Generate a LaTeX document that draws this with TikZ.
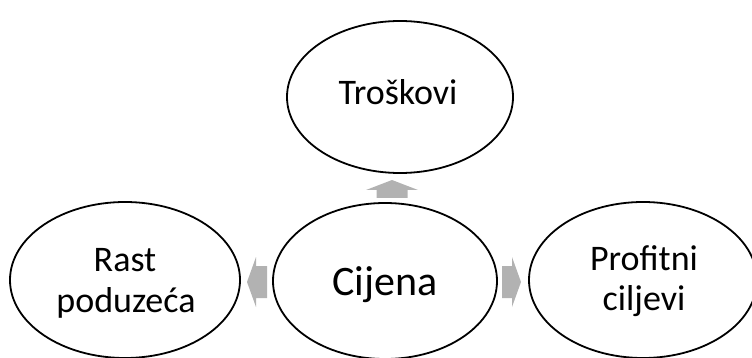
\documentclass[tikz,border=0pt]{standalone}
\usepackage{fontspec}
\setmainfont{Carlito}
\usetikzlibrary{shapes.geometric}
\definecolor{arrowgray}{RGB}{178,178,178}
\begin{document}
\begin{tikzpicture}[x=1pt,y=-1pt,
  oval/.style={ellipse, draw=black, line width=1.8pt, fill=white, inner sep=0pt},
  label/.style={anchor=base, inner sep=0pt, font=\fontsize{36}{40}\selectfont},
  biglabel/.style={anchor=base, inner sep=0pt, font=\fontsize{42}{46}\selectfont},
  blockarrow/.style={fill=arrowgray, draw=none}]
\useasboundingbox (0,0) rectangle (752,358);
\clip (0,0) rectangle (752,358);
\node[oval, minimum width=226pt, minimum height=152pt] (t) at (400,97) {};
\node[oval, minimum width=224pt, minimum height=156pt] (c) at (385,281) {};
\node[oval, minimum width=230pt, minimum height=156pt] (l) at (125,280) {};
\node[oval, minimum width=228pt, minimum height=156pt] (r) at (643,280) {};
\node[label] (tt) at (398,105) {Troškovi};
\node[biglabel] (ct) at (385,295) {Cijena};
\node[label] (lt1) at (125,271) {Rast};
\node[label] (lt2) at (126,312) {poduzeća};
\node[label] (rt1) at (644,270) {Profitni};
\node[label] (rt2) at (644,310) {ciljevi};
% up arrow
\coordinate (ua) at (392,190);
\fill[blockarrow] ([xshift=-15.5pt,yshift=-8pt]ua) -- ([xshift=-15.5pt]ua) -- ([xshift=-26pt]ua)
  -- ([yshift=10pt]ua) -- ([xshift=26pt]ua) -- ([xshift=15.5pt]ua) -- ([xshift=15.5pt,yshift=-8pt]ua) -- cycle;
% left arrow
\coordinate (la) at (256,282);
\fill[blockarrow] ([xshift=11pt,yshift=-16pt]la) -- ([yshift=-16pt]la) -- ([yshift=-25pt]la)
  -- ([xshift=-9pt]la) -- ([yshift=25pt]la) -- ([yshift=16pt]la) -- ([xshift=11pt,yshift=16pt]la) -- cycle;
% right arrow
\coordinate (ra) at (512,282);
\fill[blockarrow] ([xshift=-10pt,yshift=-16pt]ra) -- ([yshift=-16pt]ra) -- ([yshift=-25pt]ra)
  -- ([xshift=9pt]ra) -- ([yshift=25pt]ra) -- ([yshift=16pt]ra) -- ([xshift=-10pt,yshift=16pt]ra) -- cycle;
\end{tikzpicture}
\end{document}
